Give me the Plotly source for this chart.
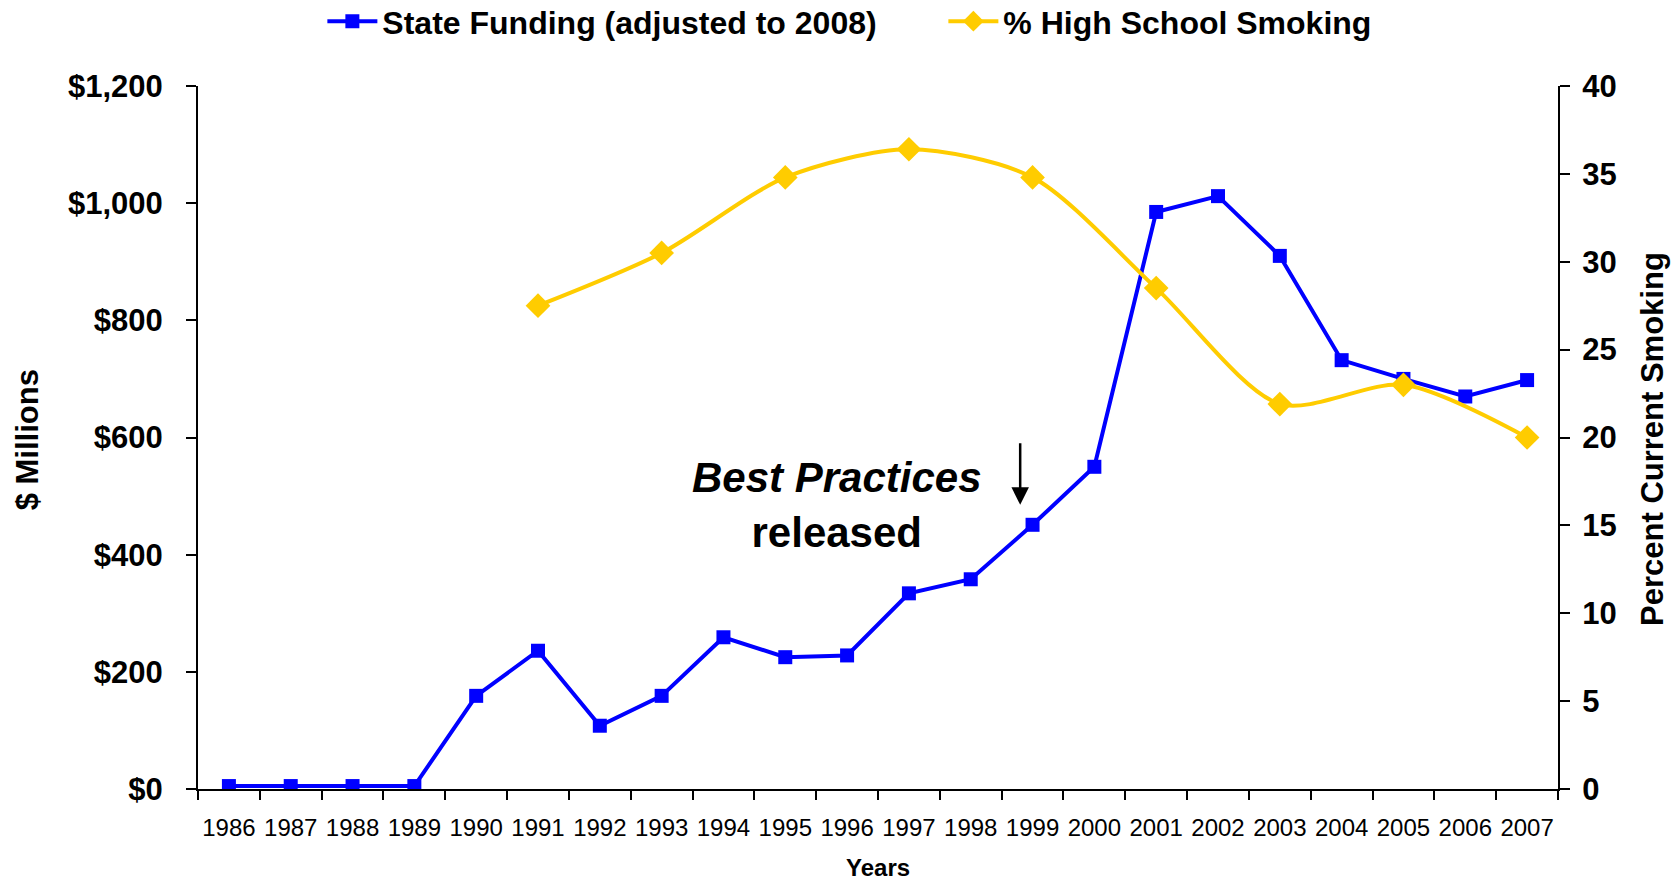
import plotly.graph_objects as go

years = [str(y) for y in range(1986, 2008)]
funding = [5, 5, 5, 5, 159, 236, 108, 159, 259, 225, 228, 334, 358, 451, 550, 985, 1012, 910, 732, 700, 670, 698]
smoking = [None, None, None, None, None, 27.5, None, 30.5, None, 34.8, None, 36.4, None, 34.8,
           None, 28.5, None, 21.9, None, 23.0, None, 20.0]
left_ticks = [0, 200, 400, 600, 800, 1000, 1200]
left_labels = ["$0", "$200", "$400", "$600", "$800", "$1,000", "$1,200"]

FONT = "Liberation Sans, Arial, sans-serif"
BLUE = "#0000FF"
GOLD = "#FFCC00"

fig = go.Figure()
fig.add_trace(go.Scatter(
    x=years, y=funding, name="State Funding (adjusted to 2008)",
    mode="lines+markers", line=dict(color=BLUE, width=4),
    marker=dict(symbol="square", size=14, color=BLUE), yaxis="y", xaxis="x"))
fig.add_trace(go.Scatter(
    x=years, y=smoking, name="% High School Smoking",
    mode="lines+markers", connectgaps=True,
    line=dict(color=GOLD, width=4, shape="spline", smoothing=0.8),
    marker=dict(symbol="diamond", size=19, color=GOLD), yaxis="y2", xaxis="x"))

tickfont_b = dict(family=FONT, size=31, color="black", weight="bold")

fig.update_layout(
    width=1679, height=884,
    margin=dict(l=198, r=121, t=86, b=95, autoexpand=False),
    paper_bgcolor="white", plot_bgcolor="white",
    showlegend=True,
    legend=dict(orientation="h", xref="container", yref="paper",
                x=0.192, y=1.131, xanchor="left", yanchor="top",
                font=dict(family=FONT, size=32, color="black", weight="bold"),
                bgcolor="rgba(0,0,0,0)", itemwidth=50, entrywidth=556,
                entrywidthmode="pixels", tracegroupgap=0),
    xaxis=dict(type="category", range=[-0.5, 21.5], tickson="boundaries",
               ticks="outside", ticklen=9, tickwidth=2, tickcolor="black",
               showline=True, linecolor="black", linewidth=2, showgrid=False,
               zeroline=False, ticklabelstandoff=16, tickangle=0,
               tickfont=dict(family=FONT, size=24, color="black")),
    xaxis2=dict(overlaying="x", anchor="y", range=[-0.5, 21.5], tick0=-0.5, dtick=1,
                ticks="inside", ticklen=9, tickwidth=2, tickcolor="black",
                showticklabels=False, showline=False, showgrid=False, zeroline=False),
    yaxis=dict(range=[0, 1200], tickvals=left_ticks, ticktext=left_labels,
               ticks="outside", ticklen=10, tickwidth=2, tickcolor="black",
               showline=True, linecolor="black", linewidth=2, showgrid=False,
               zeroline=False, tickfont=tickfont_b, ticklabelstandoff=17),
    yaxis3=dict(overlaying="y", anchor="x", side="left", range=[0, 1200], dtick=200,
                ticks="inside", ticklen=10, tickwidth=2, tickcolor="black",
                showticklabels=False, showline=False, showgrid=False, zeroline=False),
    yaxis2=dict(overlaying="y", anchor="x", side="right", range=[0, 40], dtick=5,
                ticks="outside", ticklen=10, tickwidth=2, tickcolor="black",
                showline=True, linecolor="black", linewidth=2, showgrid=False,
                zeroline=False, tickfont=tickfont_b, ticklabelstandoff=6),
    yaxis4=dict(overlaying="y", anchor="x", side="right", range=[0, 40], dtick=5,
                ticks="inside", ticklen=10, tickwidth=2, tickcolor="black",
                showticklabels=False, showline=False, showgrid=False, zeroline=False),
)

annos = [
    dict(text="$ Millions", xref="paper", yref="paper", x=-0.1257, y=0.496,
         textangle=-90, showarrow=False, xanchor="center", yanchor="middle",
         font=dict(family=FONT, size=31, color="black", weight="bold")),
    dict(text="Percent Current Smoking", xref="paper", yref="paper", x=1.069, y=0.4977,
         textangle=-90, showarrow=False, xanchor="center", yanchor="middle",
         font=dict(family=FONT, size=31, color="black", weight="bold")),
    dict(text="Years", xref="paper", yref="paper", x=0.5, y=-0.1123,
         showarrow=False, xanchor="center", yanchor="middle",
         font=dict(family=FONT, size=24, color="black", weight="bold")),
    dict(text="<i>Best Practices</i><br>released", xref="x", yref="y", x=9.84, y=485,
         showarrow=False, xanchor="center", yanchor="middle",
         font=dict(family=FONT, size=42, color="black", weight="bold")),
    dict(text="", xref="x", yref="y", x=12.8, y=485, ax=0, ay=-63,
         showarrow=True, arrowhead=2, arrowsize=1.4, arrowwidth=2.5, arrowcolor="black"),
]
fig.update_layout(annotations=annos)

fig.write_html("out.html")
